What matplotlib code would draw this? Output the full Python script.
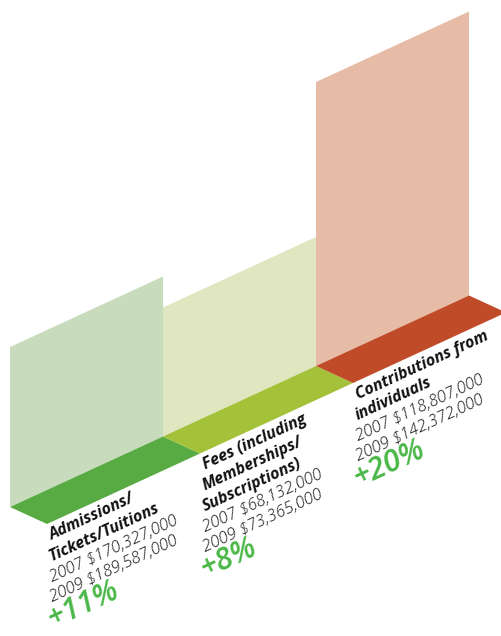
import matplotlib
matplotlib.use("Agg")
import matplotlib.pyplot as plt
from matplotlib.patches import Polygon

# data
categories = ["Admissions/\nTickets/Tuitions",
              "Fees (including\nMemberships/\nSubscriptions)",
              "Contributions from\nindividuals"]
values_2007 = [170327000, 68132000, 118807000]
values_2009 = [189587000, 73365000, 142372000]
pct_change = [11, 8, 20]
# height of each wall as drawn (picture units)
wall_height = [160, 129, 284]

wall_colors = ["#c8dcbd", "#dfe6c0", "#e7bca7"]
floor_colors = ["#58ab43", "#a4c13a", "#bf4b28"]
pct_color = "#4cb849"

# oblique projection: t = position along the base, d = floor depth, h = height
x0, y0 = 10, 507
step = (153, -70.5)
depth = (37, 17)


def proj(t, d, h):
    return (x0 + step[0] * t + depth[0] * d,
            y0 + step[1] * t + depth[1] * d - h)


fig = plt.figure(figsize=(5.01, 6.36), dpi=100)
ax = fig.add_axes([0, 0, 1, 1])
ax.set_xlim(0, 501)
ax.set_ylim(636, 0)
ax.axis("off")

angle = 24.7
for i in range(len(categories)):
    h = wall_height[i]
    wall = [proj(i, 0, 0), proj(i + 1, 0, 0), proj(i + 1, 0, h), proj(i, 0, h)]
    ax.add_patch(Polygon(wall, closed=True, facecolor=wall_colors[i], edgecolor="none"))
    floor = [proj(i, 0, 0), proj(i + 1, 0, 0), proj(i + 1, 1, 0), proj(i, 1, 0)]
    ax.add_patch(Polygon(floor, closed=True, facecolor=floor_colors[i], edgecolor="none"))

    # text block hangs below the front corner of the floor
    tx, ty = proj(i, 1, 0)
    tx += 5
    ty += 16
    for line in categories[i].split("\n"):
        ax.text(tx, ty, line, rotation=angle, rotation_mode="anchor",
                ha="left", va="baseline", fontsize=11.5, fontweight="bold",
                style="italic", family="Open Sans", color="#111111")
        ty += 21
    for yr, v in (("2007", values_2007[i]), ("2009", values_2009[i])):
        ax.text(tx, ty, f"{yr} ${v:,}", rotation=angle, rotation_mode="anchor",
                ha="left", va="baseline", fontsize=12, fontweight="light",
                style="italic", family="Open Sans", color="#111111")
        ty += 20
    ty += 6
    ax.text(tx, ty, f"+{pct_change[i]}%", rotation=angle, rotation_mode="anchor",
            ha="left", va="baseline", fontsize=22, fontweight="semibold",
            style="italic", family="Open Sans", color=pct_color)

fig.savefig("out.png", dpi=100)
